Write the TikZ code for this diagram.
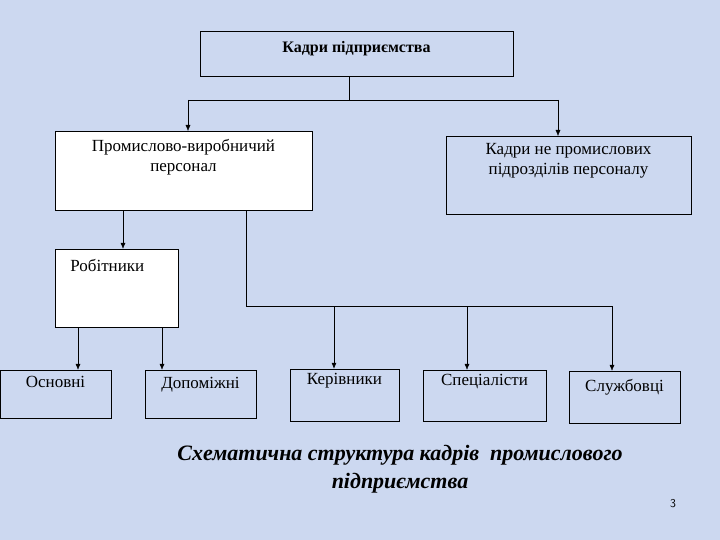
\documentclass[tikz,border=0pt]{standalone}
\usepackage{fontspec}
\setmainfont{Liberation Serif}
\usetikzlibrary{positioning, arrows.meta}
\definecolor{bgblue}{RGB}{204,216,240}
\begin{document}
\begin{tikzpicture}[x=1pt, y=-1pt, font=\fontsize{17}{20}\selectfont,
    box/.style={draw, thin, inner sep=0pt},
    link/.style={thin, -{Latex[length=6pt, width=5pt]}}]
            \fill[bgblue] (0,0) rectangle (720,540);
            \useasboundingbox (0,0) rectangle (720,540);
            % boxes
            \node[box, minimum width=313pt, minimum height=45pt] (top) at (356.5,53.5) {};
            \node[below=7pt of top.north, font=\fontsize{16}{18}\bfseries\selectfont] {Кадри підприємства};
            \node[box, fill=white, minimum width=257pt, minimum height=79pt] (pv) at (183.5,170.5) {};
            \node[below=5pt of pv.north, align=center] {Промислово-виробничий\\персонал};
            \node[box, minimum width=245pt, minimum height=78pt] (kn) at (568.5,175) {};
            \node[below=4pt of kn.north, align=center] {Кадри не промислових\\підрозділів персоналу};
            \node[box, fill=white, minimum width=123pt, minimum height=78pt] (rob) at (116.5,288) {};
            \node[below right=7pt and 12pt of rob.north west] {Робітники};
            \node[box, minimum width=111pt, minimum height=48pt] (osn) at (55.5,394) {};
            \node[below=3pt of osn.north] {Основні};
            \node[box, minimum width=111pt, minimum height=48pt] (dop) at (200.5,394) {};
            \node[below=4pt of dop.north] {Допоміжні};
            \node[box, minimum width=109pt, minimum height=52pt] (ker) at (344.5,395) {};
            \node[below=1pt of ker.north] {Керівники};
            \node[box, minimum width=123pt, minimum height=51pt] (spe) at (484.5,395.5) {};
            \node[below=1pt of spe.north] {Спеціалісти};
            \node[box, minimum width=111pt, minimum height=52pt] (slu) at (624.5,397) {};
            \node[below=5pt of slu.north] {Службовці};
            % connectors
            \coordinate (tj) at (349,100);
            \draw (top.south -| tj) -- (tj);
            \draw (188,100) -- (558,100);
            \draw[link] (188,100) -- (188,131);
            \draw[link] (558,100) -- (558,136);
            \draw[link] (pv.south -| 123,0) -- (rob.north -| 123,0);
            \draw[link] (rob.south -| 78,0) -- (osn.north -| 78,0);
            \draw[link] (rob.south -| 162,0) -- (dop.north -| 162,0);
            \draw (pv.south -| 246,0) -- (246,306) -- (612,306);
            \draw[link, semithick] (334,306) -- (ker.north -| 334,0);
            \draw[link] (467,306) -- (spe.north -| 467,0);
            \draw[link] (612,306) -- (slu.north -| 612,0);
            % caption
            \node[font=\fontsize{22}{28}\bfseries\itshape\selectfont, align=center] (cap) at (400,469)
                {Схематична структура кадрів\ \ промислового\\підприємства};
            \node[font=\fontsize{12}{14}\sffamily\selectfont] (num) at (673,504) {3};
\end{tikzpicture}
\end{document}
